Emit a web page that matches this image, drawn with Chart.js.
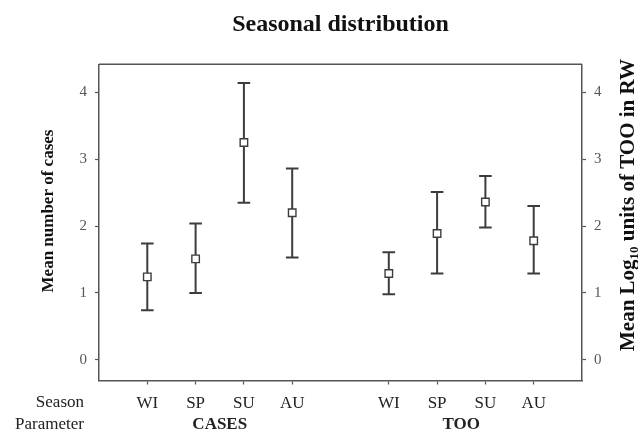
<!DOCTYPE html>
<html><head><meta charset="utf-8">
<script src="https://cdn.jsdelivr.net/npm/chart.js@4/dist/chart.umd.min.js"></script>
<style>html,body{margin:0;padding:0;background:#fff}#wrap{width:638px;height:434px}</style>
</head><body><div id="wrap"><canvas id="c" width="638" height="434"></canvas></div>
<script>
// ---- data ----
const seasons = ['WI', 'SP', 'SU', 'AU'];
const parameters = ['CASES', 'TOO'];
const casesMean  = [1.24, 1.51, 3.25, 2.20];
const casesUpper = [1.74, 2.04, 4.14, 2.86];
const casesLower = [0.74, 1.00, 2.35, 1.53];
const tooMean    = [1.29, 1.89, 2.36, 1.78];
const tooUpper   = [1.61, 2.51, 2.75, 2.30];
const tooLower   = [0.98, 1.29, 1.98, 1.29];
const yTicks = [0, 1, 2, 3, 4];
const leftTitle = 'Mean number of cases';
const rightTitle = ['Mean Log', '10', ' units of TOO in RW'];
const chartTitle = 'Seasonal distribution';

const SERIF = '"Liberation Serif", "Times New Roman", serif';
const INK = '#3c3c3c';
const step = seasons.length + 1;
const slot = (g, i) => g * step + i;
const slots = [];
parameters.forEach((p, g) => seasons.forEach((s, i) => slots.push(slot(g, i))));

function pts(g, arr) { return arr.map((v, i) => ({x: slot(g, i), y: v})); }
function caps(g, lo, hi) { const r = []; lo.forEach((v, i) => { r.push({x: slot(g, i), y: v}); r.push({x: slot(g, i), y: hi[i]}); }); return r; }
function whisk(g, lo, hi) { const r = []; lo.forEach((v, i) => { r.push({x: slot(g, i), y: v}); r.push({x: slot(g, i), y: hi[i]}); r.push({x: slot(g, i), y: null}); }); return r; }

const markerStyle = {pointStyle: 'rect', pointRadius: 5.3, pointBackgroundColor: '#fff', pointBorderColor: INK, pointBorderWidth: 1.4, showLine: false};
const capStyle = {pointStyle: 'line', pointRadius: 6.3, pointBorderColor: INK, pointBorderWidth: 2, showLine: false};
const whiskStyle = {showLine: true, spanGaps: false, pointRadius: 0, borderColor: INK, borderWidth: 2};

const extras = {
  id: 'extras',
  beforeDatasetsDraw(chart) {
    const {ctx, chartArea: a} = chart;
    ctx.save();
    ctx.strokeStyle = '#555'; ctx.lineWidth = 1.5;
    ctx.beginPath(); ctx.moveTo(a.left, a.top); ctx.lineTo(a.right, a.top); ctx.stroke();
    ctx.restore();
  },
  afterDraw(chart) {
    const {ctx} = chart;
    const x = chart.scales.x;
    ctx.save();
    ctx.fillStyle = '#222';
    ctx.textBaseline = 'middle';
    ctx.textAlign = 'right';
    ctx.font = '17px ' + SERIF;
    ctx.fillText('Season', 84, 403);
    ctx.fillText('Parameter', 84, 425);
    ctx.textAlign = 'center';
    ctx.font = 'bold 17px ' + SERIF;
    parameters.forEach((p, g) => {
      const cx = (x.getPixelForValue(slot(g, 0)) + x.getPixelForValue(slot(g, seasons.length - 1))) / 2;
      ctx.fillText(p, cx, 425);
    });
    // left rotated title
    ctx.save();
    ctx.translate(49, 211); ctx.rotate(-Math.PI / 2);
    ctx.fillStyle = '#111';
    ctx.fillText(leftTitle, 0, 0);
    ctx.restore();
    // right rotated title with subscript
    ctx.save();
    ctx.translate(629, 205); ctx.rotate(-Math.PI / 2);
    ctx.fillStyle = '#111';
    ctx.textAlign = 'left';
    const big = 'bold 21px ' + SERIF, small = 'bold 13px ' + SERIF;
    ctx.font = big; const w0 = ctx.measureText(rightTitle[0]).width, w2 = ctx.measureText(rightTitle[2]).width;
    ctx.font = small; const w1 = ctx.measureText(rightTitle[1]).width;
    let sx = -(w0 + w1 + w2) / 2;
    ctx.font = big; ctx.fillText(rightTitle[0], sx, 0); sx += w0;
    ctx.font = small; ctx.fillText(rightTitle[1], sx, 6); sx += w1;
    ctx.font = big; ctx.fillText(rightTitle[2], sx, 0);
    ctx.restore();
    ctx.restore();
  }
};

const yCommon = {
  min: -0.31, max: 4.42,
  afterBuildTicks: s => { s.ticks = yTicks.map(v => ({value: v})); },
  ticks: {font: {family: SERIF, size: 15}, color: '#555', padding: 8},
  grid: {drawOnChartArea: false, tickLength: 4, tickColor: '#555', tickWidth: 1.2},
  border: {color: '#555', width: 1.5}
};

new Chart(document.getElementById('c'), {
  type: 'scatter',
  data: {datasets: [
    Object.assign({label: 'CASES mean', data: pts(0, casesMean), yAxisID: 'y'}, markerStyle),
    Object.assign({label: 'TOO mean', data: pts(1, tooMean), yAxisID: 'y2'}, markerStyle),
    Object.assign({label: 'CASES CI', data: caps(0, casesLower, casesUpper), yAxisID: 'y'}, capStyle),
    Object.assign({label: 'TOO CI', data: caps(1, tooLower, tooUpper), yAxisID: 'y2'}, capStyle),
    Object.assign({label: 'CASES bar', data: whisk(0, casesLower, casesUpper), yAxisID: 'y'}, whiskStyle),
    Object.assign({label: 'TOO bar', data: whisk(1, tooLower, tooUpper), yAxisID: 'y2'}, whiskStyle)
  ]},
  options: {
    responsive: false, animation: false, devicePixelRatio: 1,
    layout: {padding: 0},
    plugins: {
      legend: {display: false}, tooltip: {enabled: false},
      title: {display: true, fullSize: false, text: chartTitle, color: '#111',
        font: {family: SERIF, size: 24, weight: 'bold'}, padding: {top: 10, bottom: 25.5}}
    },
    scales: {
      x: {
        type: 'linear', min: -1, max: slot(parameters.length - 1, seasons.length - 1) + 1,
        afterBuildTicks: s => { s.ticks = slots.map(v => ({value: v})); },
        ticks: {callback: v => seasons[v % step] || '', font: {family: SERIF, size: 17}, color: '#222', padding: 9, maxRotation: 0, autoSkip: false},
        grid: {drawOnChartArea: false, tickLength: 4, tickColor: '#555', tickWidth: 1.2},
        border: {color: '#555', width: 1.5},
        afterFit: s => { s.height = 53.5; }
      },
      y: Object.assign({position: 'left', afterFit: s => { s.width = 99; }}, yCommon),
      y2: Object.assign({position: 'right', afterFit: s => { s.width = 56; }}, yCommon)
    }
  },
  plugins: [extras]
});
</script></body></html>
